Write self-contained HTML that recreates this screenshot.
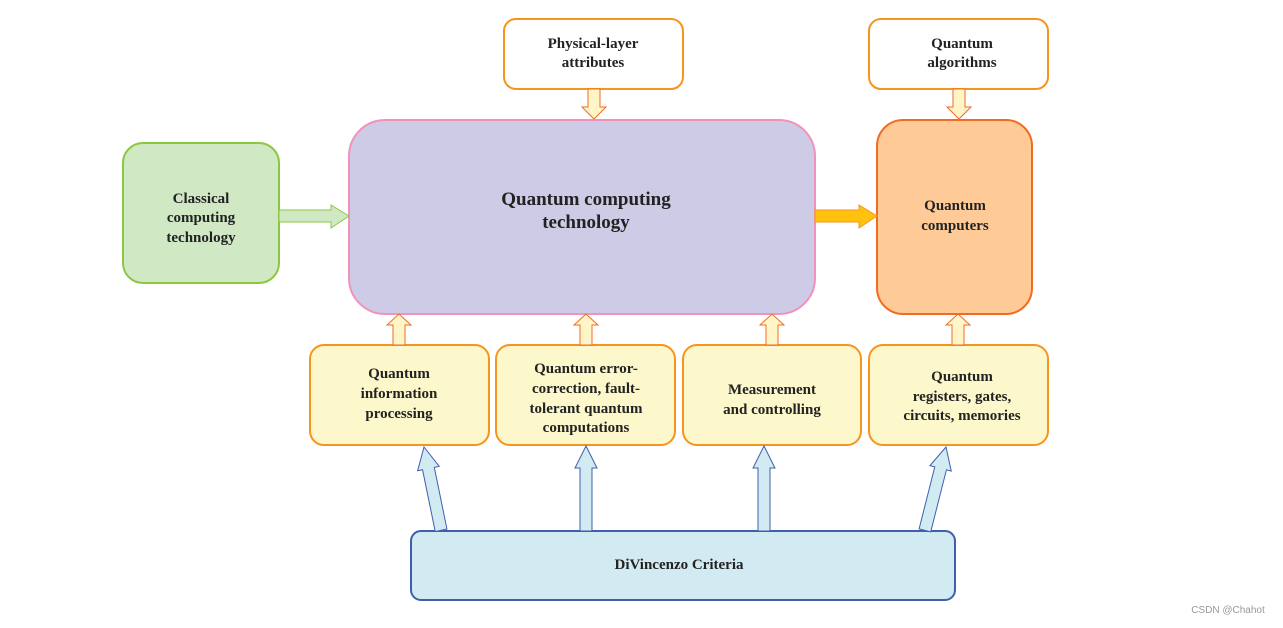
<!DOCTYPE html>
<html><head><meta charset="utf-8"><style>
html,body{margin:0;padding:0;background:#fff;}
svg text{font-family:"Liberation Serif",serif;font-weight:bold;fill:#222;text-anchor:middle;}
</style></head><body>
<svg width="1283" height="623" viewBox="0 0 1283 623" xmlns="http://www.w3.org/2000/svg">
<defs>
<path id="up" d="M0,0 L11,12 L6,12 L6,L L-6,L Z"/>
</defs>
<!-- top boxes -->
<rect x="504" y="19" width="179" height="70" rx="12" fill="#fff" stroke="#f7941d" stroke-width="2"/>
<text x="593" y="48" font-size="15">Physical-layer</text>
<text x="593" y="67" font-size="15">attributes</text>
<rect x="869" y="19" width="179" height="70" rx="12" fill="#fff" stroke="#f7941d" stroke-width="2"/>
<text x="962" y="48" font-size="15">Quantum</text>
<text x="962" y="67" font-size="15">algorithms</text>
<!-- main -->
<rect x="349" y="120" width="466" height="194" rx="36" fill="#cecbe6" stroke="#f192bd" stroke-width="2"/>
<text x="586" y="205" font-size="19">Quantum computing</text>
<text x="586" y="228" font-size="19">technology</text>
<rect x="123" y="143" width="156" height="140" rx="20" fill="#d1e8c5" stroke="#8dc63f" stroke-width="2"/>
<text x="201" y="203" font-size="15">Classical</text>
<text x="201" y="222" font-size="15">computing</text>
<text x="201" y="242" font-size="15">technology</text>
<rect x="877" y="120" width="155" height="194" rx="26" fill="#fecb98" stroke="#f26b21" stroke-width="2"/>
<text x="955" y="210" font-size="15">Quantum</text>
<text x="955" y="230" font-size="15">computers</text>
<!-- bottom boxes -->
<g fill="#fcf8cc" stroke="#f7941d" stroke-width="2">
<rect x="310" y="345" width="179" height="100" rx="14"/>
<rect x="496" y="345" width="179" height="100" rx="14"/>
<rect x="683" y="345" width="178" height="100" rx="14"/>
<rect x="869" y="345" width="179" height="100" rx="14"/>
</g>
<g font-size="15">
<text x="399" y="378">Quantum</text><text x="399" y="398">information</text><text x="399" y="418">processing</text>
<text x="586" y="373">Quantum error-</text><text x="586" y="393">correction, fault-</text><text x="586" y="413">tolerant quantum</text><text x="586" y="432">computations</text>
<text x="772" y="394">Measurement</text><text x="772" y="414">and controlling</text>
<text x="962" y="381">Quantum</text><text x="962" y="401">registers, gates,</text><text x="962" y="420">circuits, memories</text>
</g>
<rect x="411" y="531" width="544" height="69" rx="10" fill="#d2eaf1" stroke="#3f5fad" stroke-width="2"/>
<text x="679" y="569" font-size="15">DiVincenzo Criteria</text>
<!-- orange small arrows -->
<g fill="#fff5c6" stroke="#f26b21" stroke-width="1">
<path d="M588,89 L600,89 L600,107 L606,107 L594,119 L582,107 L588,107 Z"/>
<path d="M953,89 L965,89 L965,107 L971,107 L959,119 L947,107 L953,107 Z"/>
<path d="M393,345 L405,345 L405,325 L411,325 L399,314 L387,325 L393,325 Z"/>
<path d="M580,345 L592,345 L592,325 L598,325 L586,314 L574,325 L580,325 Z"/>
<path d="M766,345 L778,345 L778,325 L784,325 L772,314 L760,325 L766,325 Z"/>
<path d="M952,345 L964,345 L964,325 L970,325 L958,314 L946,325 L952,325 Z"/>
</g>
<path d="M279,210 L331,210 L331,205 L349,216 L331,228 L331,222 L279,222 Z" fill="#d1e8c5" stroke="#8dc63f" stroke-width="1"/>
<path d="M815,210 L859,210 L859,205 L877,216 L859,228 L859,222 L815,222 Z" fill="#ffc20e" stroke="#f7941d" stroke-width="1"/>
<!-- blue arrows -->
<g fill="#d2eaf1" stroke="#3f5fad" stroke-width="1">
<path d="M0,0 L11,22 L6,22 L6,85 L-6,85 L-6,22 L-11,22 Z" transform="translate(424,447) rotate(-11.6)"/>
<path d="M0,0 L11,22 L6,22 L6,85 L-6,85 L-6,22 L-11,22 Z" transform="translate(586,446)"/>
<path d="M0,0 L11,22 L6,22 L6,85 L-6,85 L-6,22 L-11,22 Z" transform="translate(764,446)"/>
<path d="M0,0 L11,22 L6,22 L6,86 L-6,86 L-6,22 L-11,22 Z" transform="translate(946,447) rotate(14.2)"/>
</g>
<text x="1228" y="613" font-size="10" style="font-family:'Liberation Sans',sans-serif;font-weight:normal;fill:#999">CSDN @Chahot</text>
</svg>
</body></html>
